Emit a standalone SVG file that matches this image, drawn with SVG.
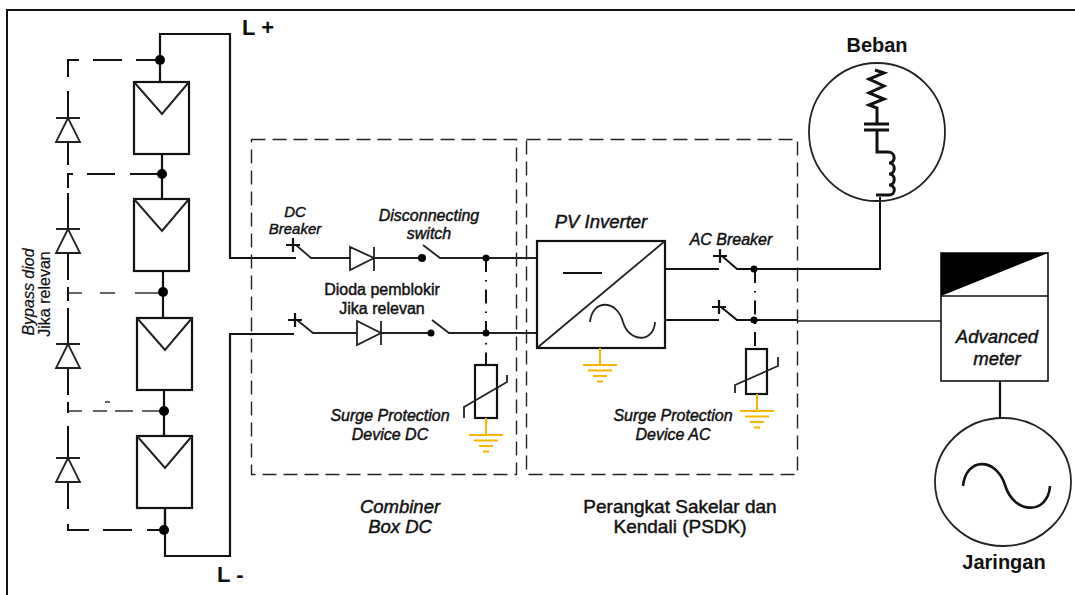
<svg xmlns="http://www.w3.org/2000/svg" width="1075" height="595" viewBox="0 0 1075 595">
<defs>
<style>
.w{fill:none;stroke:#111;stroke-width:2.2}
.t{fill:none;stroke:#222;stroke-width:1.8}
.m{fill:#fff;stroke:#111;stroke-width:2.2}
.d{fill:none;stroke:#111;stroke-width:2}
.dt{fill:none;stroke:#333;stroke-width:1.4}
.box{fill:none;stroke:#222;stroke-width:1.4;stroke-dasharray:14 7}
.dd{fill:none;stroke:#111;stroke-width:2;stroke-dasharray:14 8 1.5 8}
.g{fill:none;stroke:#f7b500;stroke-width:2}
.dot{fill:#000}
text{font-family:"Liberation Sans",Arial,sans-serif;fill:#111;stroke:#111;stroke-width:.45;text-anchor:middle}
.i{font-style:italic;font-size:16px}
.r{font-size:16px}
.b{font-size:22px;font-weight:bold;stroke:none;text-anchor:start}
.n{font-size:20px;font-weight:bold;stroke:none}
</style>
<g id="mod"><rect class="m" width="55" height="72"/><path class="t" style="stroke-width:2" d="M0,0 L28,32 L55,0"/></g>
<g id="dio"><path class="t" style="stroke-width:1.8" d="M-12,0 H12 M0,0 L-12,24 H12 Z"/></g>
<g id="gnd"><path class="g" d="M0,0 V16 M-17,17 H17 M-12,22.500 H12 M-7,28 H7 M-3,33.500 H3"/></g>
</defs>
<g id="frame"><path fill="none" stroke="#111" stroke-width="2" d="M7,595 V10 H1075"/></g>
<g id="connectors">
<path class="w" d="M160,60 V34 H230 V258 H296"/>
<path class="w" d="M165,507 V556 H230 V334 H294"/>
<path class="w" d="M160,60 V82 M162,154 V199 M163,271 V318 M164,389 V436 M165,507 V530"/>
<path class="d" d="M157,60 H136 M122,60 H93 M79,60 H68 V77 M68,91 V118 M68,142 V165"/>
<path class="d" d="M160,174 H130 M115,174 H87 M73,174 H68 V188 M68,193 V229 M68,253 V280 M68,287 V301 M68,308 V344 M68,368 V395 M68,402 V413 M68,426 V458 M68,482 V509 M68,524 V530 H89 M103,530 H132 M147,530 H163"/>
<path class="dt" d="M68,293 H82 M100,293 H115 M135,293 H160 M68,411 H82 M93,411 H107 M115,411 H133 M142,411 H160 M105,402 H110"/>
<path class="t" d="M296,245 L311,258 H350 M374,258 H422 M423,245 L440,258 H537"/>
<path class="t" d="M297,320 L313,333 H357 M381,333 H431 M432,320 L449,333 H537"/>
<path class="dd" d="M486,258 V365"/>
<path class="w" d="M665,269 H719 M665,320 H719"/>
<path class="w" style="stroke-width:2" d="M722,256 L737,269 H880 V197 M721,307 L737,320 H798"/>
<path class="t" style="stroke-width:1.300" d="M798,321 H941"/>
<path class="dd" d="M755,269 V349"/>
<path class="w" d="M1000,381 V418"/>
</g>
<g id="combiner-box"><rect class="box" x="251.500" y="139.500" width="265" height="335"/></g>
<g id="psdk-box"><rect class="box" x="526.500" y="139.500" width="271" height="335"/></g>
<g id="pv-modules">
<use href="#mod" x="134" y="82"/><use href="#mod" x="134" y="199"/><use href="#mod" x="137" y="318"/><use href="#mod" x="137" y="436"/>
<circle class="dot" cx="160" cy="60" r="5"/><circle class="dot" cx="162" cy="174" r="5"/><circle class="dot" cx="163" cy="292" r="5"/><circle class="dot" cx="164" cy="411" r="5"/><circle class="dot" cx="164" cy="530" r="5"/>
</g>
<g id="bypass-diodes">
<use href="#dio" x="68" y="118"/><use href="#dio" x="68" y="229"/><use href="#dio" x="68" y="344"/><use href="#dio" x="68" y="458"/>
<text class="i" transform="translate(34,292) rotate(-90)" style="stroke-width:.2">Bypass diod</text>
<text class="r" transform="translate(50,294) rotate(-90)" style="stroke-width:.2">Jika relevan</text>
</g>
<g id="dc-switchgear">
<path class="w" d="M286,245 H300 M293,238 V252 M288,320 H302 M295,313 V327"/>
<path class="t" d="M374,247 V271 M350,247 V270 L374,258 Z M381,321 V345 M357,321 V345 L381,333 Z"/>
<circle class="dot" cx="422" cy="258" r="4"/><circle class="dot" cx="431" cy="333" r="3.500"/>
<circle class="dot" cx="486" cy="258" r="3.500"/><circle class="dot" cx="486" cy="333" r="3.500"/>
</g>
<g id="spd-dc">
<rect class="m" x="475" y="365" width="22" height="53"/>
<path class="t" d="M464,418 V407 L507,382 V375"/>
<use href="#gnd" x="486" y="418"/>
</g>
<g id="pv-inverter">
<rect class="m" x="537" y="241" width="128" height="107"/>
<path class="t" d="M537,348 L665,241"/>
<path class="w" d="M563,273 H602"/>
<path class="t" d="M590,322 C592,299 617,299 623,322 C629,343 654,343 655,322"/>
<use href="#gnd" x="600" y="348"/>
</g>
<g id="ac-switchgear">
<path class="w" d="M713,256 H727 M720,249 V263 M712,307 H726 M719,300 V314"/>
<circle class="dot" cx="754" cy="269" r="3.500"/><circle class="dot" cx="754" cy="320" r="3.500"/>
</g>
<g id="spd-ac">
<rect class="m" x="746" y="349" width="21" height="45"/>
<path class="t" d="M735,393 V385 L778,366 V357"/>
<use href="#gnd" x="757" y="394"/>
</g>
<g id="beban">
<ellipse class="t" cx="877" cy="132" rx="68" ry="69"/>
<path fill="none" stroke="#111" stroke-width="3" d="M875,70 L884,73 L869,79 L884,86 L869,93 L884,99 L869,105 L877,108 V124 M864,124 H889 M864,130 H889 M877,130 V152 H888 C896,152 896,163 889,163 C896,163 896,174 889,174 C896,174 896,185 889,185 C896,185 896,195 889,195 H876"/>
</g>
<g id="advanced-meter">
<rect class="m" style="stroke-width:1.600" x="941" y="253" width="107" height="128"/>
<path d="M941,253 H1048 L941,296 Z" fill="#000"/>
<path class="w" style="stroke-width:1.600" d="M941,296 H1048"/>
<text class="i" x="997" y="343" style="font-size:18.500px">Advanced</text>
<text class="i" x="997" y="365" style="font-size:18.500px">meter</text>
</g>
<g id="jaringan">
<ellipse class="t" cx="1003" cy="482" rx="68" ry="64"/>
<path fill="none" stroke="#111" stroke-width="2.600" d="M963,486 C966,457 996,457 1005,485 C1014,515 1048,515 1050,486"/>
</g>
<g id="labels">
<text class="b" x="242" y="35">L +</text>
<text class="b" x="217" y="582">L -</text>
<text class="n" x="877" y="52">Beban</text>
<text class="n" x="1004" y="569">Jaringan</text>
<text class="i" x="295" y="217" style="font-size:15px">DC</text>
<text class="i" x="295" y="234" style="font-size:15px">Breaker</text>
<text class="i" x="429" y="221">Disconnecting</text>
<text class="i" x="429" y="239">switch</text>
<text class="r" x="382" y="295">Dioda pemblokir</text>
<text class="r" x="382" y="314">Jika relevan</text>
<text class="i" x="390" y="421">Surge Protection</text>
<text class="i" x="390" y="440">Device DC</text>
<text class="i" x="601" y="228" style="font-size:18.500px">PV Inverter</text>
<text class="i" x="731" y="245">AC Breaker</text>
<text class="i" x="673" y="421">Surge Protection</text>
<text class="i" x="673" y="440">Device AC</text>
<text class="i" x="400" y="513" style="font-size:18.500px">Combiner</text>
<text class="i" x="400" y="533" style="font-size:18.500px">Box DC</text>
<text class="r" x="680" y="513" style="font-size:19px">Perangkat Sakelar dan</text>
<text class="r" x="680" y="533" style="font-size:19px">Kendali (PSDK)</text>
</g>
</svg>
